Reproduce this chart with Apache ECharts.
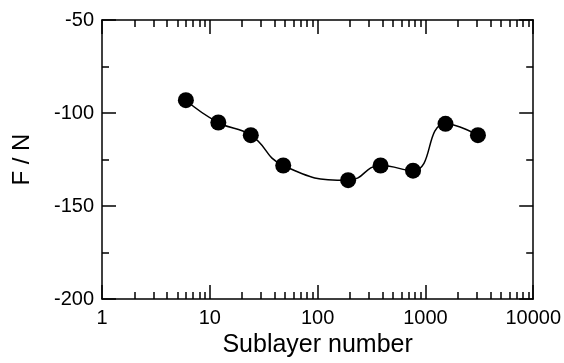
<!DOCTYPE html>
<html>
<head>
<meta charset="utf-8">
<script src="https://cdn.jsdelivr.net/npm/echarts@6/dist/echarts.min.js"></script>
<style>html,body{margin:0;padding:0;background:#fff}#c{width:564px;height:363px}</style>
</head>
<body>
<div id="c"></div>
<script>
// Data
const sublayers = [6, 12, 24, 48, 192, 384, 768, 1536, 3072];
const fValues = [-93.1, -105.1, -111.9, -128.2, -136.1, -128.2, -131.0, -105.8, -111.9];
const xMajorTicks = [1, 10, 100, 1000, 10000];
const yTicks = [-200, -150, -100, -50];

const xMinorTicks = [];
for (let d = 0; d < xMajorTicks.length - 1; d++) {
  for (let k = 2; k <= 9; k++) xMinorTicks.push(k * xMajorTicks[d]);
}

const tickFont = "'Liberation Sans', Arial, sans-serif";
const nameFont = "'Liberation Sans', Arial, sans-serif";
const lineStyle = { color: '#000', width: 1.5 };

function xAxisDef(pos, major, withLabels) {
  return {
    type: 'log', logBase: 10, min: 1, max: 10000, position: pos,
    name: withLabels ? 'Sublayer number' : '',
    nameLocation: 'middle', nameGap: 33,
    nameTextStyle: { fontFamily: nameFont, fontSize: 25, color: '#000' },
    axisLine: { show: major, lineStyle: lineStyle },
    axisTick: { show: true, inside: true, length: major ? 14 : 7, lineStyle: lineStyle,
      customValues: major ? xMajorTicks : xMinorTicks },
    axisLabel: { show: withLabels, customValues: xMajorTicks, margin: 9,
      formatter: v => String(Math.round(v)),
      fontFamily: tickFont, fontSize: 20, color: '#000' },
    splitLine: { show: false }, minorTick: { show: false }
  };
}

function yAxisDef(pos, withLabels) {
  return {
    type: 'value', min: -200, max: -50, interval: 50, position: pos,
    name: withLabels ? 'F / N' : '',
    nameLocation: 'middle', nameGap: 68, nameRotate: 90,
    nameTextStyle: { fontFamily: nameFont, fontSize: 24, color: '#000' },
    axisLine: { show: true, lineStyle: lineStyle },
    axisTick: { show: true, inside: true, length: 14, lineStyle: lineStyle },
    minorTick: { show: true, splitNumber: 2, length: 7, lineStyle: lineStyle },
    axisLabel: { show: withLabels, margin: 8, fontFamily: tickFont, fontSize: 20, color: '#000',
      customValues: yTicks },
    splitLine: { show: false }, minorSplitLine: { show: false }
  };
}

const chart = echarts.init(document.getElementById('c'), null, { renderer: 'canvas' });
chart.setOption({
  animation: false,
  backgroundColor: '#fff',
  grid: { left: 102, right: 30, top: 20, bottom: 55, containLabel: false },
  xAxis: [
    xAxisDef('bottom', true, true),
    xAxisDef('bottom', false, false),
    xAxisDef('top', true, false),
    xAxisDef('top', false, false)
  ],
  yAxis: [
    yAxisDef('left', true),
    yAxisDef('right', false)
  ],
  series: [{
    type: 'line',
    xAxisIndex: 0, yAxisIndex: 0,
    data: sublayers.map((x, i) => [x, fValues[i]]),
    smooth: 0.5,
    symbol: 'circle', symbolSize: 16,
    itemStyle: { color: '#000' },
    lineStyle: { color: '#000', width: 1.5 }
  }]
});
</script>
</body>
</html>
